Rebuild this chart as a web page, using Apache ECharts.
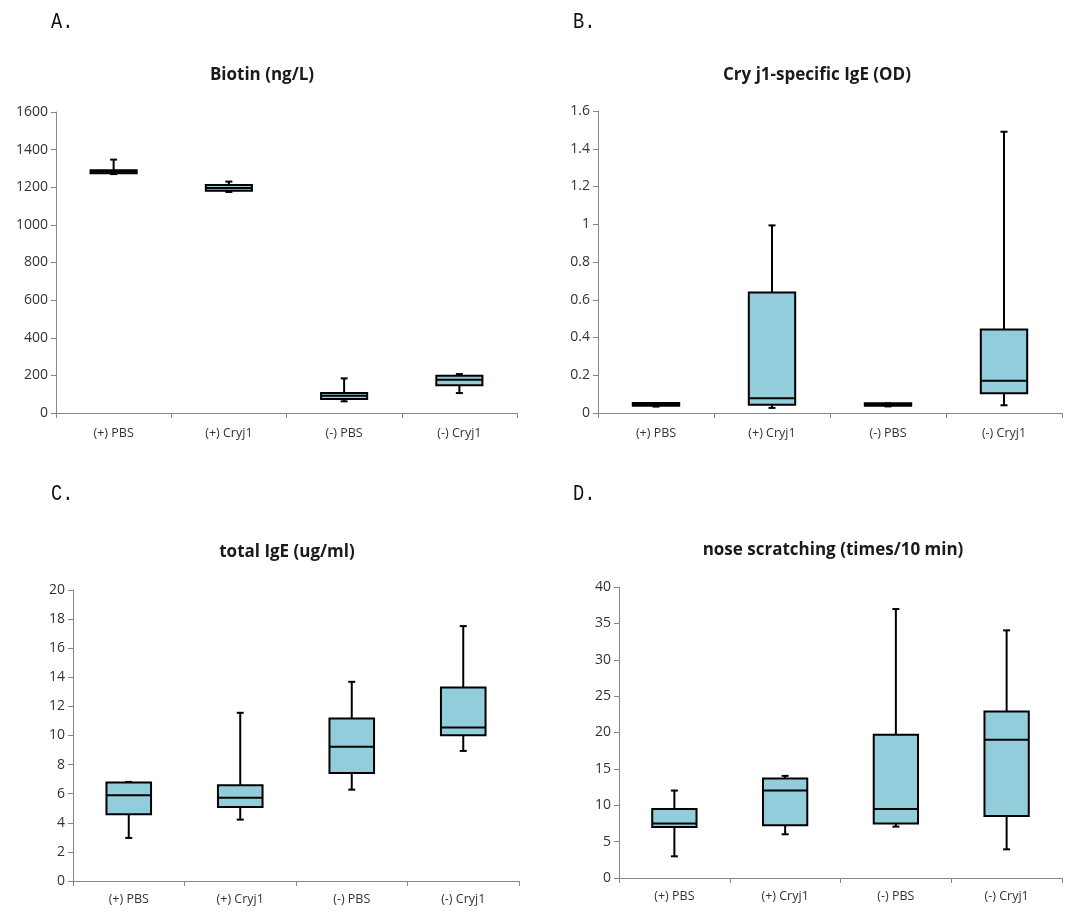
<!DOCTYPE html>
<html>
<head>
<meta charset="utf-8">
<script src="https://cdn.jsdelivr.net/npm/echarts@6/dist/echarts.min.js"></script>
<style>
html,body{margin:0;padding:0;background:#fff;}
#main{width:1079px;height:912px;}
</style>
</head>
<body>
<div id="main"></div>
<script>
// ---- data ----
const categories = ['(+) PBS', '(+) Cryj1', '(-) PBS', '(-) Cryj1'];
// each row: [min, Q1, median, Q3, max]
const biotin = [
  [1270, 1275, 1283, 1290, 1347],
  [1175, 1182, 1196, 1212, 1230],
  [62, 74, 92, 106, 184],
  [106, 147, 177, 198, 207]
];
const cryj1IgE = [
  [0.034, 0.039, 0.046, 0.053, 0.053],
  [0.027, 0.044, 0.078, 0.638, 0.994],
  [0.035, 0.039, 0.045, 0.051, 0.051],
  [0.041, 0.104, 0.171, 0.442, 1.49]
];
const totalIgE = [
  [2.96, 4.59, 5.89, 6.77, 6.81],
  [4.22, 5.09, 5.73, 6.58, 11.56],
  [6.28, 7.43, 9.22, 11.17, 13.69],
  [8.94, 10.02, 10.55, 13.30, 17.52]
];
const noseScratching = [
  [2.98, 7.02, 7.48, 9.50, 12.02],
  [6.01, 7.25, 12.02, 13.67, 14.04],
  [7.06, 7.48, 9.50, 19.68, 36.97],
  [3.94, 8.53, 18.99, 22.89, 34.04]
];
const panelLetters = ['A.', 'B.', 'C.', 'D.'];
const panelTitles = ['Biotin (ng/L)', 'Cry j1-specific IgE (OD)', 'total IgE (ug/ml)', 'nose scratching (times/10 min)'];
const yMax = [1600, 1.6, 20, 40];
const yInterval = [200, 0.2, 2, 5];
const datasets = [biotin, cryj1IgE, totalIgE, noseScratching];

// ---- layout ----
const grids = [
  {left: 56, top: 112, width: 461, height: 301},
  {left: 598, top: 111, width: 464, height: 302},
  {left: 73, top: 590, width: 446, height: 291},
  {left: 619, top: 587, width: 443, height: 291}
];
const xLabelMargin = [14, 14, 12, 12];
const titlePos = [[262, 75], [817, 75], [287, 552], [833, 550]];
const letterPos = [[51, 22], [573, 22], [51, 494], [573, 494]];

const axisColor = '#868686';
const labelColor = '#333333';
const boxFill = '#92CDDC';

function renderBox(params, api) {
  const x = api.value(0);
  const lo = api.coord([x, api.value(1)]);
  const q1 = api.coord([x, api.value(2)]);
  const md = api.coord([x, api.value(3)]);
  const q3 = api.coord([x, api.value(4)]);
  const hi = api.coord([x, api.value(5)]);
  const bw = api.size([1, 0])[0] * 0.4;
  const cx = lo[0];
  const cap = 3.5;
  const ls = {stroke: '#000', lineWidth: 2};
  return {
    type: 'group',
    children: [
      {type: 'line', shape: {x1: cx, y1: hi[1], x2: cx, y2: q3[1]}, style: ls},
      {type: 'line', shape: {x1: cx, y1: q1[1], x2: cx, y2: lo[1]}, style: ls},
      {type: 'line', shape: {x1: cx - cap, y1: hi[1], x2: cx + cap, y2: hi[1]}, style: ls},
      {type: 'line', shape: {x1: cx - cap, y1: lo[1], x2: cx + cap, y2: lo[1]}, style: ls},
      {type: 'rect', shape: {x: cx - bw / 2, y: q3[1], width: bw, height: q1[1] - q3[1]},
        style: {fill: boxFill, stroke: '#000', lineWidth: 2}},
      {type: 'line', shape: {x1: cx - bw / 2, y1: md[1], x2: cx + bw / 2, y2: md[1]}, style: ls}
    ]
  };
}

const option = {
  backgroundColor: '#fff',
  animation: false,
  grid: grids,
  xAxis: grids.map((g, i) => ({
    type: 'category',
    gridIndex: i,
    data: categories,
    axisLine: {lineStyle: {color: axisColor, width: 1}},
    axisTick: {show: true, length: 5, lineStyle: {color: axisColor}},
    axisLabel: {color: labelColor, fontSize: 12.5, fontFamily: 'Open Sans', margin: xLabelMargin[i]},
    splitLine: {show: false}
  })),
  yAxis: grids.map((g, i) => ({
    type: 'value',
    gridIndex: i,
    min: 0,
    max: yMax[i],
    interval: yInterval[i],
    axisLine: {show: true, lineStyle: {color: axisColor, width: 1}},
    axisTick: {show: true, length: 5, lineStyle: {color: axisColor}},
    axisLabel: {color: labelColor, fontSize: 14, fontFamily: 'Open Sans', margin: 8,
      formatter: v => String(+v.toFixed(4))},
    splitLine: {show: false}
  })),
  series: datasets.map((d, i) => ({
    type: 'custom',
    xAxisIndex: i,
    yAxisIndex: i,
    renderItem: renderBox,
    encode: {x: 0, y: [1, 2, 3, 4, 5]},
    data: d.map((r, j) => [j].concat(r))
  })),
  graphic: [
    ...panelTitles.map((t, i) => ({
      type: 'text', x: titlePos[i][0], y: titlePos[i][1],
      style: {text: t, fill: '#1a1a1a', font: 'bold 17px "Open Sans"', textAlign: 'center', textVerticalAlign: 'middle'}
    })),
    ...panelLetters.map((t, i) => ({
      type: 'text', x: letterPos[i][0], y: letterPos[i][1], scaleX: 0.85,
      style: {text: t, fill: '#111', font: '22px "Liberation Mono"', textAlign: 'left', textVerticalAlign: 'middle'}
    }))
  ]
};

const chart = echarts.init(document.getElementById('main'), null, {renderer: 'canvas'});
chart.setOption(option);
</script>
</body>
</html>
